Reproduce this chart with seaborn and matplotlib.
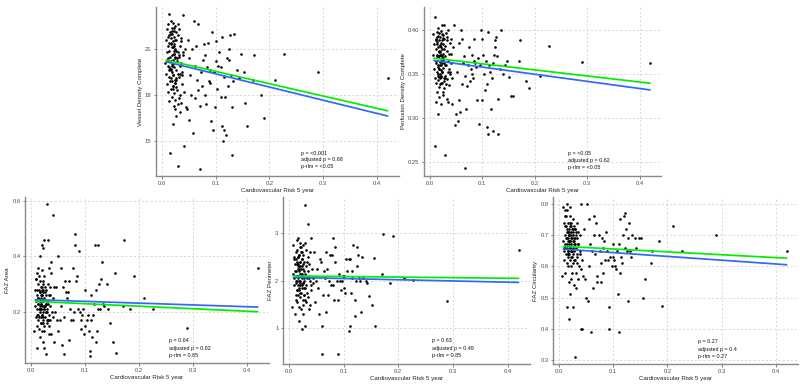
import numpy as np
import pandas as pd
import matplotlib
matplotlib.use("Agg")
import matplotlib.pyplot as plt
import seaborn as sns

# ---------------- data ----------------
risk_right = [0.42, 0.29, 0.227, 0.21, 0.19, 0.184, 0.172, 0.17, 0.158, 0.155, 0.152, 0.147]
risk_mid = [
    0.046, 0.048, 0.050, 0.051, 0.053, 0.055, 0.056, 0.058, 0.060, 0.061,
    0.062, 0.064, 0.065, 0.067, 0.068, 0.070, 0.071, 0.073, 0.075, 0.077,
    0.078, 0.080, 0.081, 0.082, 0.084, 0.085, 0.087, 0.089, 0.090, 0.092,
    0.093, 0.095, 0.097, 0.099, 0.100, 0.101, 0.103, 0.105, 0.107, 0.109,
    0.110, 0.111, 0.112, 0.113, 0.115, 0.116, 0.118, 0.120, 0.121, 0.122,
    0.124, 0.125, 0.127, 0.128, 0.130, 0.131, 0.133, 0.135, 0.140, 0.143]
risk_dense = [
    0.006, 0.007, 0.008, 0.009, 0.010, 0.010, 0.011, 0.011, 0.012, 0.012,
    0.012, 0.013, 0.013, 0.013, 0.014, 0.014, 0.014, 0.015, 0.015, 0.015,
    0.015, 0.016, 0.016, 0.016, 0.017, 0.017, 0.017, 0.017, 0.018, 0.018,
    0.018, 0.019, 0.019, 0.019, 0.020, 0.020, 0.020, 0.020, 0.021, 0.021,
    0.021, 0.022, 0.022, 0.022, 0.022, 0.023, 0.023, 0.023, 0.024, 0.024,
    0.024, 0.025, 0.025, 0.025, 0.026, 0.026, 0.026, 0.027, 0.027, 0.027,
    0.028, 0.028, 0.029, 0.029, 0.030, 0.030, 0.031, 0.031, 0.032, 0.032,
    0.033, 0.033, 0.034, 0.034, 0.035, 0.035, 0.036, 0.037, 0.038, 0.039,
    0.040, 0.041, 0.042, 0.043, 0.044, 0.010, 0.013, 0.015, 0.016, 0.018,
    0.019, 0.020, 0.021, 0.022, 0.023, 0.024, 0.025, 0.026, 0.028, 0.030,
    0.014, 0.017, 0.020, 0.023, 0.027, 0.011, 0.012, 0.016, 0.018, 0.021,
    0.024, 0.029, 0.033, 0.036, 0.040, 0.019, 0.022, 0.025, 0.031, 0.038]

vd_right = [19.1, 19.5, 20.7, 19.0, 16.5, 18.0, 20.6, 19.0, 16.0, 17.5, 19.5, 20.7]
vd_mid = [
    17.1, 21.6, 16.4, 20.4, 19.3, 18.0, 21.0, 15.5, 22.8, 19.9,
    17.8, 21.2, 19.0, 18.3, 22.6, 13.2, 17.3, 19.5, 18.6, 20.3,
    21.3, 18.0, 20.6, 17.4, 19.8, 21.4, 18.9, 19.6, 18.8, 16.3,
    22.1, 15.7, 19.5, 17.2, 20.2, 21.5, 18.4, 19.9, 20.8, 17.9,
    19.8, 21.8, 16.0, 15.0, 19.2, 15.7, 17.9, 15.4, 20.4, 18.6,
    21.0, 20.3, 21.9, 19.3, 14.1, 17.2, 18.9, 22.0, 19.6, 19.1]
vd_dense = [
    20.1, 21.6, 19.4, 22.3, 20.8, 18.7, 21.2, 19.9, 22.6, 20.4,
    18.2, 21.9, 19.6, 17.6, 23.3, 20.9, 19.2, 22.1, 20.5, 18.9,
    14.2, 21.4, 19.7, 22.8, 20.2, 18.4, 21.7, 19.1, 22.4, 20.6,
    17.9, 21.1, 19.5, 22.0, 20.3, 18.6, 21.5, 16.1, 22.7, 20.0,
    19.3, 21.8, 18.1, 20.7, 22.2, 19.8, 17.3, 21.3, 20.4, 18.8,
    22.5, 19.0, 21.0, 17.1, 20.9, 18.5, 22.1, 19.6, 21.6, 16.6,
    20.2, 18.3, 21.9, 19.4, 13.4, 20.8, 17.8, 22.3, 19.2, 20.5,
    18.0, 21.2, 16.9, 19.9, 21.7, 17.5, 20.1, 18.7, 19.5, 23.2,
    20.6, 18.2, 14.7, 21.0, 17.2, 20.3, 21.4, 19.7, 22.0, 20.0,
    18.9, 21.1, 19.3, 22.4, 20.7, 17.7, 21.6, 19.1, 20.4, 22.6,
    19.8, 21.3, 18.6, 20.9, 19.0, 21.8, 20.2, 19.6, 22.2, 18.4,
    20.5, 17.4, 19.4, 21.5, 20.8, 19.9, 21.2, 18.8, 20.6, 19.3]

pd_right = [0.362, 0.363, 0.382, 0.348, 0.334, 0.342, 0.389, 0.365, 0.325, 0.325, 0.346, 0.365]
pd_mid = [
    0.406, 0.292, 0.305, 0.352, 0.296, 0.32, 0.385, 0.307, 0.40, 0.338,
    0.39, 0.362, 0.37, 0.348, 0.243, 0.31, 0.336, 0.36, 0.38, 0.342,
    0.355, 0.35, 0.372, 0.345, 0.365, 0.39, 0.362, 0.358, 0.32, 0.368,
    0.293, 0.36, 0.40, 0.32, 0.39, 0.372, 0.35, 0.332, 0.365, 0.338,
    0.29, 0.398, 0.282, 0.36, 0.352, 0.31, 0.345, 0.285, 0.362, 0.372,
    0.38, 0.388, 0.392, 0.37, 0.282, 0.322, 0.355, 0.40, 0.35, 0.36]
pd_dense = [
    0.372, 0.395, 0.355, 0.384, 0.268, 0.345, 0.39, 0.362, 0.34, 0.378,
    0.318, 0.398, 0.352, 0.386, 0.372, 0.33, 0.392, 0.36, 0.343, 0.305,
    0.381, 0.369, 0.402, 0.348, 0.375, 0.335, 0.388, 0.356, 0.396, 0.324,
    0.37, 0.345, 0.383, 0.36, 0.392, 0.35, 0.376, 0.338, 0.365, 0.399,
    0.354, 0.38, 0.316, 0.372, 0.346, 0.388, 0.362, 0.405, 0.34, 0.378,
    0.352, 0.394, 0.368, 0.326, 0.384, 0.357, 0.373, 0.345, 0.406, 0.362,
    0.39, 0.334, 0.37, 0.258, 0.382, 0.348, 0.36, 0.397, 0.322, 0.376,
    0.344, 0.388, 0.365, 0.318, 0.40, 0.352, 0.373, 0.337, 0.385, 0.35,
    0.362, 0.39, 0.316, 0.345, 0.38, 0.415, 0.37, 0.358, 0.393, 0.347,
    0.375, 0.363, 0.385, 0.34, 0.368, 0.352, 0.391, 0.33, 0.378, 0.36,
    0.384, 0.355, 0.372, 0.395, 0.342, 0.365, 0.388, 0.35, 0.376, 0.36,
    0.37, 0.345, 0.392, 0.356, 0.373, 0.382, 0.348, 0.366, 0.339, 0.352]

area_right = [0.359, 0.142, 0.211, 0.25, 0.329, 0.212, 0.46, 0.22, 0.051, 0.34, 0.09, 0.16]
area_mid = [
    0.29, 0.17, 0.40, 0.13, 0.17, 0.36, 0.22, 0.08, 0.29, 0.05,
    0.18, 0.31, 0.27, 0.25, 0.27, 0.10, 0.31, 0.21, 0.17, 0.36,
    0.17, 0.20, 0.48, 0.44, 0.31, 0.33, 0.21, 0.42, 0.20, 0.14,
    0.17, 0.19, 0.21, 0.12, 0.15, 0.28, 0.17, 0.19, 0.13, 0.04,
    0.06, 0.17, 0.26, 0.11, 0.19, 0.23, 0.44, 0.28, 0.09, 0.13,
    0.44, 0.21, 0.30, 0.21, 0.32, 0.38, 0.23, 0.22, 0.30, 0.21]
area_dense = [
    0.13, 0.28, 0.22, 0.32, 0.18, 0.24, 0.34, 0.15, 0.26, 0.21,
    0.07, 0.30, 0.23, 0.19, 0.36, 0.25, 0.17, 0.28, 0.21, 0.33,
    0.14, 0.24, 0.40, 0.20, 0.27, 0.11, 0.22, 0.31, 0.18, 0.25,
    0.23, 0.16, 0.29, 0.21, 0.35, 0.19, 0.26, 0.13, 0.44, 0.22,
    0.28, 0.20, 0.31, 0.09, 0.24, 0.43, 0.17, 0.27, 0.21, 0.46,
    0.15, 0.25, 0.33, 0.07, 0.22, 0.29, 0.18, 0.26, 0.05, 0.23,
    0.20, 0.28, 0.16, 0.59, 0.24, 0.21, 0.46, 0.17, 0.30, 0.23,
    0.19, 0.36, 0.26, 0.12, 0.22, 0.29, 0.17, 0.34, 0.38, 0.20,
    0.55, 0.25, 0.09, 0.29, 0.20, 0.32, 0.23, 0.18, 0.27, 0.21,
    0.26, 0.19, 0.24, 0.16, 0.30, 0.22, 0.13, 0.27, 0.20, 0.17,
    0.25, 0.21, 0.29, 0.18, 0.23, 0.28, 0.19, 0.24, 0.16, 0.26,
    0.22, 0.20, 0.15, 0.26, 0.18, 0.23, 0.28, 0.21, 0.17, 0.12]

perim_right = [2.65, 1.58, 2.01, 2.06, 2.94, 1.96, 2.99, 2.14, 1.05, 2.48, 1.5, 1.68]
perim_mid = [
    2.6, 1.55, 2.0, 2.25, 1.85, 1.3, 2.45, 2.4, 1.05, 0.45,
    1.7, 2.2, 2.05, 1.35, 2.6, 2.25, 1.7, 2.0, 2.55, 1.9,
    2.55, 1.9, 2.9, 1.6, 2.7, 2.4, 2.0, 0.45, 1.6, 2.15,
    2.0, 1.8, 2.0, 2.1, 1.85, 2.1, 1.75, 2.45, 2.2, 0.95,
    2.45, 1.05, 2.45, 1.75, 2.2, 2.05, 2.75, 1.25, 1.6, 2.0,
    2.7, 2.3, 2.55, 2.05, 2.0, 1.35, 2.5, 2.05, 2.0, 1.95]
perim_dense = [
    1.45, 2.15, 2.75, 1.9, 2.5, 2.05, 1.3, 2.35, 1.7, 2.6,
    2.2, 1.95, 2.45, 1.6, 2.85, 2.1, 1.8, 2.4, 2.0, 1.55,
    2.65, 2.25, 1.9, 2.5, 1.7, 2.35, 2.9, 2.05, 1.45, 2.2,
    2.55, 1.85, 2.3, 1.15, 2.7, 2.0, 1.65, 2.4, 2.15, 1.9,
    2.8, 1.4, 2.25, 2.6, 1.75, 2.05, 0.98, 2.45, 1.85, 2.3,
    2.1, 1.6, 2.75, 1.95, 2.35, 1.3, 2.55, 2.0, 1.7, 2.2,
    2.4, 1.85, 2.8, 1.05, 3.6, 2.15, 1.55, 2.3, 1.9, 2.65,
    2.05, 1.75, 2.5, 2.2, 3.2, 1.65, 2.35, 1.4, 2.6, 2.0,
    2.9, 1.8, 2.25, 2.05, 1.95, 2.45, 2.1, 1.8, 2.3, 2.55,
    2.0, 2.4, 1.75, 2.15, 1.9, 2.6, 1.5, 2.25, 2.05, 1.85,
    2.35, 2.1, 1.95, 2.45, 1.7, 2.2, 2.0, 2.5, 1.8, 2.3,
    2.15, 1.6, 2.4, 2.05, 1.9, 2.25, 2.7, 1.95, 2.1, 1.5]

circ_right = [0.649, 0.70, 0.649, 0.73, 0.472, 0.68, 0.649, 0.61, 0.56, 0.50, 0.69, 0.69]
circ_mid = [
    0.72, 0.56, 0.50, 0.80, 0.49, 0.75, 0.60, 0.67, 0.39, 0.65,
    0.53, 0.70, 0.76, 0.64, 0.74, 0.57, 0.55, 0.70, 0.65, 0.61,
    0.55, 0.69, 0.66, 0.58, 0.68, 0.62, 0.71, 0.65, 0.62, 0.47,
    0.40, 0.63, 0.60, 0.67, 0.63, 0.62, 0.60, 0.59, 0.65, 0.51,
    0.39, 0.67, 0.58, 0.75, 0.63, 0.61, 0.70, 0.76, 0.77, 0.66,
    0.72, 0.65, 0.49, 0.69, 0.74, 0.65, 0.63, 0.70, 0.69, 0.66]
circ_dense = [
    0.57, 0.79, 0.68, 0.65, 0.74, 0.62, 0.78, 0.66, 0.70, 0.58,
    0.73, 0.64, 0.76, 0.69, 0.47, 0.67, 0.72, 0.61, 0.78, 0.66,
    0.80, 0.63, 0.71, 0.68, 0.60, 0.74, 0.65, 0.69, 0.55, 0.72,
    0.67, 0.43, 0.70, 0.64, 0.76, 0.51, 0.66, 0.73, 0.62, 0.68,
    0.79, 0.56, 0.71, 0.65, 0.74, 0.60, 0.69, 0.67, 0.63, 0.72,
    0.58, 0.70, 0.66, 0.75, 0.47, 0.64, 0.71, 0.68, 0.54, 0.73,
    0.65, 0.69, 0.31, 0.62, 0.72, 0.67, 0.58, 0.70, 0.66, 0.53,
    0.74, 0.64, 0.69, 0.61, 0.71, 0.56, 0.67, 0.60, 0.65, 0.70,
    0.40, 0.80, 0.40, 0.62, 0.57, 0.66, 0.73, 0.69, 0.64, 0.71,
    0.68, 0.66, 0.74, 0.63, 0.70, 0.65, 0.72, 0.61, 0.67, 0.69,
    0.71, 0.65, 0.68, 0.73, 0.62, 0.67, 0.76, 0.64, 0.70, 0.66,
    0.69, 0.72, 0.63, 0.67, 0.59, 0.70, 0.65, 0.68, 0.71, 0.64]

# fitted lines (values read at x = 0.008 and x = 0.42)
fit_x = [0.008, 0.42]
vd_green, vd_blue = [20.28, 16.97], [20.17, 16.63]
pd_green, pd_blue = [0.3678, 0.3394], [0.3652, 0.3318]
area_green, area_blue = [0.238, 0.2007], [0.244, 0.2175]
perim_green, perim_blue = [2.10, 2.05], [2.07, 1.965]
circ_green, circ_blue = [0.664, 0.626], [0.655, 0.605]

x_ticks = [0.0, 0.1, 0.2, 0.3, 0.4]
x_ticklabels = ["0.0", "0.1", "0.2", "0.3", "0.4"]
x_title = "Cardiovascular Risk 5 year"

risk = risk_right + risk_mid + risk_dense

panels = [
    dict(title="Vessel Density Complete", y=vd_right + vd_mid + vd_dense,
         green=vd_green, blue=vd_blue, ylim=(12.72, 23.74),
         yticks=[15, 18, 21], ylabels=["15", "18", "21"],
         stats=["p = <0.001", "adjusted p = 0.68", "p-rlm = <0.05"],
         rect=(156, 7, 399, 176), txt=(0.597, [0.136, 0.095, 0.055])),
    dict(title="Perfusion Density Complete", y=pd_right + pd_mid + pd_dense,
         green=pd_green, blue=pd_blue, ylim=(0.234, 0.426),
         yticks=[0.25, 0.30, 0.35, 0.40], ylabels=["0.25", "0.30", "0.35", "0.40"],
         stats=["p = <0.05", "adjusted p = 0.62", "p-rlm = <0.05"],
         rect=(424, 7, 661, 176), txt=(0.608, [0.136, 0.093, 0.052])),
    dict(title="FAZ Area", y=area_right + area_mid + area_dense,
         green=area_green, blue=area_blue, ylim=(0.016, 0.614),
         yticks=[0.2, 0.4, 0.6], ylabels=["0.2", "0.4", "0.6"],
         stats=["p = 0.64", "adjusted p = 0.82", "p-rlm = 0.65"],
         rect=(25, 197, 269, 363), txt=(0.592, [0.134, 0.088, 0.044])),
    dict(title="FAZ Perimeter", y=perim_right + perim_mid + perim_dense,
         green=perim_green, blue=perim_blue, ylim=(0.25, 3.76),
         yticks=[1, 2, 3], ylabels=["1", "2", "3"],
         stats=["p = 0.63", "adjusted p = 0.49", "p-rlm = 0.85"],
         rect=(283, 197, 530, 364), txt=(0.603, [0.138, 0.093, 0.05])),
    dict(title="FAZ Circularity", y=circ_right + circ_mid + circ_dense,
         green=circ_green, blue=circ_blue, ylim=(0.287, 0.822),
         yticks=[0.3, 0.4, 0.5, 0.6, 0.7, 0.8],
         ylabels=["0.3", "0.4", "0.5", "0.6", "0.7", "0.8"],
         stats=["p = 0.27", "adjusted p = 0.4", "p-rlm = 0.27"],
         rect=(553, 197, 798, 364), txt=(0.592, [0.134, 0.088, 0.044])),
]

# ---------------- plotting ----------------
sns.set_theme(style="white")
plt.rcParams['font.family'] = ['Liberation Sans', 'DejaVu Sans']

W, H = 800, 386
fig = plt.figure(figsize=(W / 100, H / 100), dpi=100)
fig.patch.set_facecolor("white")

for p in panels:
    l, t, r, b = p["rect"]
    ax = fig.add_axes([l / W, 1 - b / H, (r - l) / W, (b - t) / H])
    df = pd.DataFrame({"risk": risk, "val": p["y"]})
    sns.scatterplot(data=df, x="risk", y="val", ax=ax, color="black",
                    s=3.5, linewidth=0, zorder=3)
    fit = pd.DataFrame({"risk": fit_x, "green": p["green"], "blue": p["blue"]})
    sns.lineplot(data=fit, x="risk", y="blue", ax=ax, color="#3366FF",
                 linewidth=1.25, zorder=4)
    sns.lineplot(data=fit, x="risk", y="green", ax=ax, color="#00EE00",
                 linewidth=1.25, zorder=5)
    ax.set_xlim(-0.011, 0.441)
    ax.set_ylim(*p["ylim"])
    ax.set_xticks(x_ticks)
    ax.set_xticklabels(x_ticklabels)
    ax.set_yticks(p["yticks"])
    ax.set_yticklabels(p["ylabels"])
    ax.grid(True, color="#D3D3D3", linestyle=(0, (2.5, 2.5)), linewidth=0.6)
    ax.set_axisbelow(True)
    for s in ["top", "right"]:
        ax.spines[s].set_visible(False)
    for s in ["left", "bottom"]:
        ax.spines[s].set_color("#8A8A8A")
        ax.spines[s].set_linewidth(1.0)
    ax.tick_params(axis="both", which="major", labelsize=4.2, colors="#4D4D4D",
                   length=1.8, width=0.5, pad=1.5, direction="out",
                   bottom=True, left=True)
    ax.set_xlabel(x_title, fontsize=4.4, color="#222222", labelpad=1.5)
    ax.set_ylabel(p["title"], fontsize=4.4, color="#222222", labelpad=1.5)
    tx, tys = p["txt"]
    for line, ty in zip(p["stats"], tys):
        ax.text(tx, ty, line, transform=ax.transAxes, fontsize=3.9,
                color="#111111", ha="left", va="center")

fig.savefig("out.png", dpi=100, facecolor="white")
